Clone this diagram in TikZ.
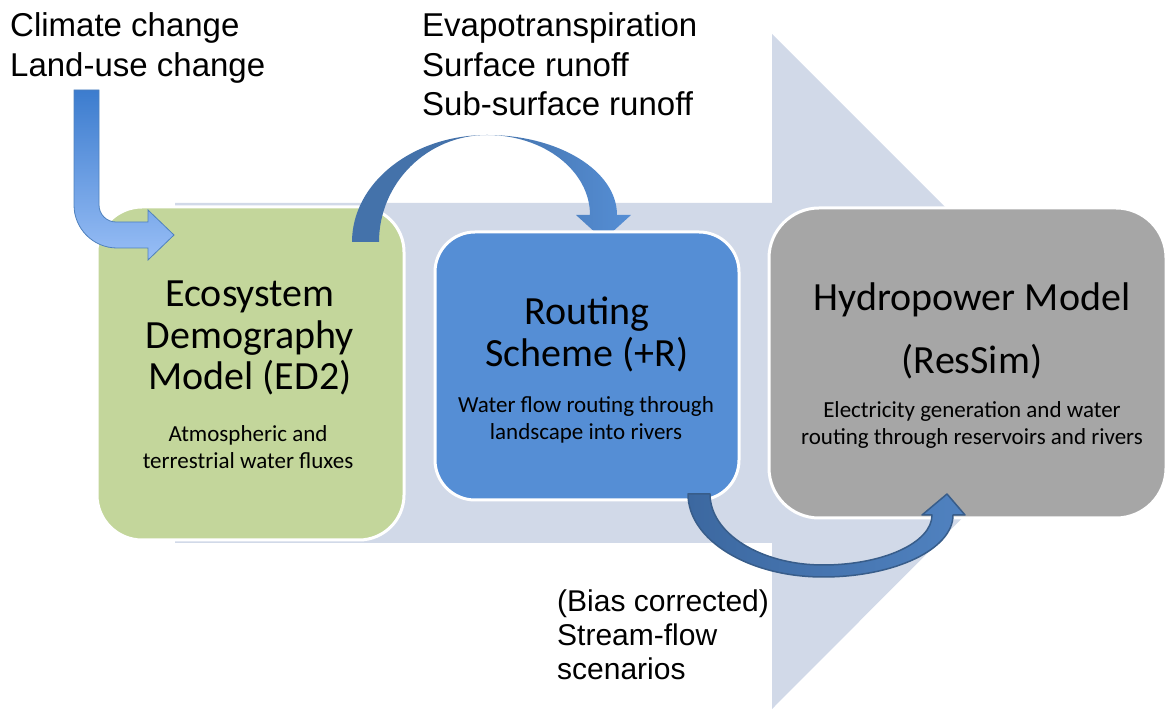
\documentclass[tikz,border=0pt]{standalone}
\usepackage{fontspec}
\setmainfont{Carlito}
\newfontfamily\arialfont{Liberation Sans}
\definecolor{flowbg}{RGB}{209,217,232}
\definecolor{ecogreen}{RGB}{195,214,155}
\definecolor{routeblue}{RGB}{85,142,213}
\definecolor{hydrogray}{RGB}{166,166,166}
\definecolor{arcdark}{RGB}{68,114,170}
\definecolor{arclight}{RGB}{85,142,213}
\definecolor{lowdark}{RGB}{60,104,160}
\definecolor{lowlight}{RGB}{80,130,192}
\definecolor{lowedge}{RGB}{56,93,138}
\definecolor{bentdark}{RGB}{60,124,206}
\definecolor{bentlight}{RGB}{152,190,246}
\definecolor{bentedge}{RGB}{79,129,189}
\tikzset{
  modelbox/.style={draw=white, line width=3pt, inner sep=0},
  titletext/.style={align=center, font=\fontsize{40}{41.5}\selectfont, inner sep=0, anchor=base},
  subtext/.style={align=center, font=\fontsize{23}{27}\selectfont, inner sep=0, anchor=base},
  outertext/.style={align=left, inner sep=0, anchor=base west},
}
\begin{document}
\begin{tikzpicture}[x=1pt,y=1pt]
\useasboundingbox (0,0) rectangle (1167,709);
\fill[flowbg] (175,166) -- (175,506) -- (772,506) -- (772,675) -- (1109,338) -- (772,0) -- (772,166) -- cycle;
\node[modelbox, fill=ecogreen, rounded corners=45, minimum width=307, minimum height=333] (eco) at (250.5,335.5) {};
\fill[arcdark] (352,467) arc[start angle=180, end angle=90, x radius=135, y radius=107]
  arc[start angle=90, end angle=180, x radius=108, y radius=107] -- cycle;
\shade[left color=arcdark, right color=arclight] (487,574) arc[start angle=90, end angle=0, x radius=130, y radius=80]
  -- (631,494) -- (603.5,469) -- (576,494) -- (590,494)
  arc[start angle=0, end angle=90, x radius=103, y radius=80] -- cycle;
\node[modelbox, fill=routeblue, rounded corners=40, minimum width=304, minimum height=268] (route) at (587,343) {};
\node[modelbox, fill=hydrogray, rounded corners=50, minimum width=397, minimum height=310] (hydro) at (967.5,346) {};
\shade[left color=lowdark, right color=lowlight, draw=lowedge, line width=1.5pt, line join=round]
  (688,215) arc[start angle=180, end angle=270, x radius=135, y radius=83]
  arc[start angle=270, end angle=360, x radius=130, y radius=62]
  -- (965,194) -- (947,215) -- (922,194) -- (932,194)
  arc[start angle=0, end angle=-90, x radius=109, y radius=50]
  arc[start angle=270, end angle=180, x radius=113, y radius=71] -- cycle;
\shade[top color=bentdark, bottom color=bentlight, draw=bentedge, line width=0.8pt]
  (74,619) -- (74,504) arc[start angle=180, end angle=270, radius=43]
  -- (148,461) -- (148,449) -- (174,474) -- (148,499) -- (148,487) -- (116,487)
  arc[start angle=270, end angle=180, radius=17] -- (99,619) -- cycle;
\node[titletext] (ecotitle) at (250,319) {Ecosystem\\Demography\\Model (ED2)};
\node[subtext] (ecotext) at (248,240) {Atmospheric and\\terrestrial water fluxes};
\node[titletext] (routetitle) at (587,342.5) {Routing\\Scheme (+R)};
\node[subtext] (routetext) at (586,269) {Water flow routing through\\landscape into rivers};
\node[titletext] (hydrotitle) at (972,335) {Hydropower Model\\[21.5pt](ResSim)};
\node[subtext] (hydrotext) at (972,264) {Electricity generation and water\\routing through reservoirs and rivers};
\node[outertext, font=\arialfont\fontsize{33}{40}\selectfont] (drivers) at (10,632) {Climate change\\Land-use change};
\node[outertext, font=\arialfont\fontsize{33}{39.5}\selectfont] (fluxes) at (422,593) {Evapotranspiration\\Surface runoff\\Sub-surface runoff};
\node[outertext, font=\arialfont\fontsize{30}{34}\selectfont] (streamflow) at (557,29) {(Bias corrected)\\Stream-flow\\scenarios};
\end{tikzpicture}
\end{document}
